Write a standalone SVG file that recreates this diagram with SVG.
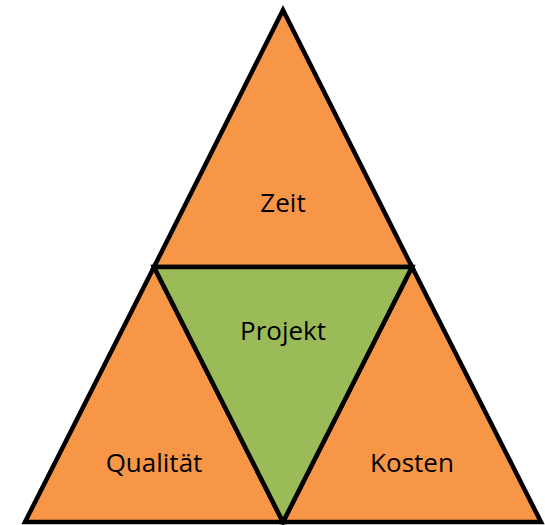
<svg xmlns="http://www.w3.org/2000/svg" width="545" height="525" viewBox="0 0 545 525">
<style>
.s{stroke:#000;stroke-width:4.5;stroke-linejoin:miter}
.o{fill:#F79646}
.g{fill:#9BBB59}
text{font-family:"Open Sans","Liberation Sans",sans-serif;font-size:26px;fill:#000;text-anchor:middle}
</style>
<g id="zeit"><polygon class="o s" points="283,10 412,267 154,267"/><text x="283" y="212">Zeit</text></g>
<g id="qualitaet"><polygon class="o s" points="154,267 283,522 25,522"/><text x="154" y="472">Qualität</text></g>
<g id="kosten"><polygon class="o s" points="412,267 541,522 283,522"/><text x="412" y="472">Kosten</text></g>
<g id="projekt"><polygon class="g s" points="154,267 412,267 283,522"/><text x="283" y="340">Projekt</text></g>
<g id="connectors"></g>
</svg>
